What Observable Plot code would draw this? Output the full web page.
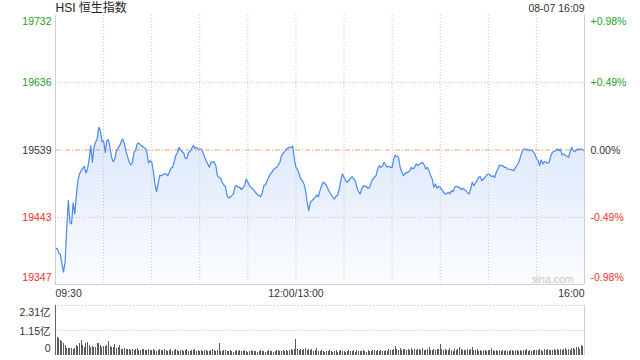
<!DOCTYPE html>
<html><head><meta charset="utf-8">
<script src="https://cdn.jsdelivr.net/npm/d3@7"></script>
<script src="https://cdn.jsdelivr.net/npm/@observablehq/plot@0.6"></script>
<style>
body{margin:0;background:#fff;}
#chart svg{display:block;}
</style></head><body><div id="chart"></div>
<script>
// trading minutes since 09:30 (lunch removed: 0..150 = 09:30..12:00, 150..330 = 13:00..16:00)
const priceMinute = [0,1,2,3,4,5,6,7,8,9,10,11,12,13,14,15,16,18,19,20,21,22,23,24,25,26,27,28,29,30,31,32,33,34,35,36,37,38,40,41,42,43,44,46,47,48,49,50,51,52,53,55,56,57,58,59,60,61,62,63,64,65,66,68,69,70,71,72,73,74,75,76,77,78,80,81,82,83,84,85,86,87,88,89,91,92,93,94,95,96,97,98,99,100,101,102,103,104,105,106,107,108,109,110,111,112,113,114,115,116,118,119,120,121,122,123,124,125,126,127,128,129,130,131,132,133,134,135,136,137,138,139,140,141,142,143,144,146,147,148,149,150,151,152,153,154,155,156,157,158,159,160,161,162,163,164,165,166,167,168,169,170,171,173,174,175,176,177,178,179,180,181,182,183,184,185,186,187,188,189,190,191,192,193,194,195,196,197,198,200,201,202,203,204,205,206,207,208,209,210,211,212,213,214,215,216,217,218,219,220,221,222,223,224,225,226,227,228,229,230,231,232,233,234,235,236,237,238,239,240,241,242,243,244,245,246,247,248,249,250,251,252,253,254,256,257,258,259,260,261,262,263,264,265,266,267,268,269,270,271,272,273,274,275,276,277,278,279,280,281,282,284,285,286,287,288,289,290,291,292,293,294,295,296,297,298,299,300,301,302,303,304,305,306,307,308,309,310,312,313,314,315,316,317,318,319,320,321,322,323,324,325,326,327,328,329,330];
const priceValue = [19397.9,19398.9,19392.2,19390.8,19376.5,19364.6,19378.9,19426.5,19467.0,19436.1,19433.7,19463.7,19448.0,19474.2,19495.6,19505.2,19509.9,19516.1,19506.6,19512.3,19526.6,19545.7,19521.9,19543.3,19550.5,19555.2,19571.9,19567.1,19551.4,19552.8,19536.2,19552.8,19554.3,19543.3,19529.0,19522.8,19526.6,19538.5,19545.7,19551.4,19555.2,19548.1,19537.1,19521.9,19518.0,19521.9,19536.2,19539.5,19548.1,19549.5,19546.7,19543.3,19541.9,19536.2,19520.9,19524.2,19522.8,19509.9,19490.9,19479.9,19490.9,19502.8,19502.8,19505.2,19505.2,19502.8,19507.6,19513.8,19514.7,19521.9,19531.4,19535.2,19543.3,19539.5,19535.2,19527.6,19527.6,19536.2,19537.1,19541.9,19545.7,19541.9,19543.3,19540.9,19540.9,19536.2,19529.0,19524.2,19519.5,19514.7,19521.9,19521.9,19522.8,19517.1,19502.8,19500.4,19499.0,19493.3,19489.4,19487.5,19474.2,19470.9,19472.3,19474.2,19476.6,19487.5,19488.5,19486.1,19486.1,19482.8,19488.5,19498.0,19493.3,19488.5,19486.1,19483.7,19481.3,19478.0,19475.1,19474.2,19472.8,19478.0,19488.5,19489.4,19495.6,19500.4,19505.2,19507.6,19511.4,19513.3,19514.7,19518.0,19521.9,19531.4,19534.7,19537.1,19540.9,19543.3,19543.3,19544.7,19526.6,19514.7,19511.4,19505.2,19498.0,19495.6,19490.9,19481.3,19464.7,19452.7,19464.7,19467.0,19469.4,19471.8,19475.1,19472.8,19481.3,19488.5,19493.3,19491.8,19488.5,19483.7,19479.0,19471.8,19469.4,19473.2,19475.1,19483.7,19495.6,19505.2,19500.4,19495.6,19493.3,19495.6,19499.0,19501.4,19498.0,19495.6,19486.1,19479.9,19476.6,19483.7,19488.5,19487.1,19487.5,19484.7,19486.1,19493.3,19498.0,19502.8,19512.3,19517.1,19514.7,19516.1,19521.9,19518.0,19514.7,19516.1,19514.7,19514.7,19526.6,19532.3,19530.4,19529.0,19514.7,19508.5,19502.8,19505.2,19507.6,19507.6,19509.9,19514.7,19512.3,19514.7,19519.5,19517.1,19519.5,19520.4,19521.9,19518.0,19512.3,19514.7,19509.9,19502.8,19498.0,19486.1,19490.9,19484.7,19487.5,19486.1,19482.8,19479.0,19476.6,19476.6,19479.0,19476.6,19481.3,19479.9,19486.1,19487.5,19486.1,19486.1,19482.8,19484.7,19481.3,19478.0,19476.6,19483.7,19493.3,19488.5,19492.3,19495.6,19500.4,19501.4,19495.6,19498.0,19500.4,19503.7,19505.2,19503.7,19501.4,19502.8,19500.4,19507.6,19512.3,19518.0,19517.1,19517.1,19514.7,19514.7,19512.3,19511.4,19510.9,19509.9,19514.7,19518.0,19521.9,19529.0,19536.2,19540.9,19540.9,19539.5,19540.0,19538.5,19539.5,19537.1,19533.8,19527.6,19524.2,19517.1,19525.2,19519.5,19522.8,19521.9,19520.4,19521.9,19531.4,19536.2,19538.5,19540.9,19538.5,19540.9,19532.3,19533.8,19532.3,19530.4,19529.0,19536.2,19543.3,19538.5,19537.1,19540.0,19540.9,19540.0,19540.9,19539.5,19538.5];
// volume per trading minute, in 亿
const volume = [
0.85,0.82,0.77,0.69,0.65,0.54,0.46,0.34,0.32,0.31,
0.31,0.28,0.34,0.45,0.42,0.54,0.69,0.46,0.38,0.54,
0.62,0.46,0.38,0.43,0.37,0.38,0.54,0.57,0.46,0.38,
0.42,0.40,0.45,0.65,0.42,0.36,0.38,0.50,0.33,0.38,
0.45,0.30,0.28,0.33,0.26,0.30,0.27,0.25,0.29,0.24,
0.28,0.31,0.25,0.23,0.27,0.30,0.24,0.22,0.26,0.21,
0.24,0.27,0.22,0.20,0.25,0.29,0.23,0.21,0.28,0.24,
0.20,0.22,0.26,0.19,0.23,0.30,0.21,0.18,0.22,0.25,
0.19,0.23,0.27,0.20,0.18,0.24,0.21,0.26,0.19,0.22,
0.17,0.21,0.18,0.23,0.25,0.19,0.20,0.24,0.26,0.21,
0.19,0.22,0.57,0.20,0.18,0.23,0.21,0.17,0.19,0.24,
0.20,0.16,0.19,0.22,0.18,0.21,0.17,0.20,0.23,0.18,
0.16,0.19,0.21,0.17,0.20,0.18,0.15,0.19,0.22,0.17,
0.18,0.16,0.20,0.23,0.17,0.19,0.15,0.18,0.21,0.24,
0.19,0.17,0.22,0.20,0.25,0.18,0.23,0.27,0.22,0.30,
0.74,0.28,0.24,0.30,0.22,0.26,0.33,0.21,0.29,0.24,
0.27,0.20,0.23,0.31,0.19,0.17,0.21,0.18,0.16,0.20,
0.17,0.22,0.18,0.15,0.19,0.21,0.16,0.18,0.23,0.17,
0.20,0.15,0.18,0.22,0.17,0.19,0.24,0.16,0.21,0.18,
0.17,0.20,0.23,0.18,0.16,0.21,0.19,0.17,0.22,0.25,
0.19,0.21,0.18,0.24,0.20,0.17,0.22,0.19,0.26,0.21,
0.23,0.30,0.42,0.27,0.24,0.31,0.22,0.26,0.29,0.23,
0.27,0.25,0.32,0.22,0.28,0.24,0.30,0.26,0.23,0.33,
0.25,0.22,0.28,0.35,0.24,0.21,0.27,0.23,0.30,0.26,
0.51,0.29,0.24,0.27,0.22,0.25,0.31,0.23,0.20,0.26,
0.24,0.28,0.38,0.26,0.22,0.25,0.21,0.27,0.23,0.29,
0.35,0.24,0.21,0.26,0.19,0.23,0.20,0.25,0.22,0.18,
0.24,0.21,0.31,0.23,0.19,0.22,0.20,0.24,0.18,0.21,
0.19,0.23,0.20,0.17,0.22,0.25,0.19,0.21,0.24,0.20,
0.22,0.18,0.24,0.21,0.26,0.19,0.23,0.20,0.25,0.22,
0.24,0.21,0.27,0.23,0.19,0.26,0.22,0.28,0.24,0.21,
0.25,0.29,0.22,0.27,0.24,0.30,0.23,0.26,0.31,0.25,
0.28,0.24,0.33,0.31,0.27,0.38,0.35,0.30,0.46,0.42,
0.54];
const prevClose = 19539.5;
const yTickValues = [19347, 19443, 19539, 19636, 19732];
const yTickLabels = ["19347", "19443", "19539", "19636", "19732"];
const pctLabels = ["-0.98%", "-0.49%", "0.00%", "+0.49%", "+0.98%"];
const xTickMinutes = [0, 150, 330];
const xTickLabels = ["09:30", "12:00/13:00", "16:00"];
const gridMinutes = [30, 60, 90, 120, 150, 180, 210, 240, 270, 300];
const volTickValues = [0, 1.155, 2.31];
const volTickLabels = ["0", "1.15亿", "2.31亿"];
const titleText = "HSI 恒生指数";
const stampText = "08-07 16:09";
const watermark = "sina.com";

const GREEN = "#1f9e1f", RED = "#ee3026", DARK = "#333", GRID = "#c4c4c4";
const FONT = "'Liberation Sans', Arial, 'Noto Sans CJK SC', sans-serif";

const prices = priceMinute.map((m, i) => ({m, v: priceValue[i]}));
const yTicks = yTickValues.map((v, i) => ({v, label: yTickLabels[i], pct: pctLabels[i], i}));
const tickColor = d => d.v > prevClose + 1 ? GREEN : d.v < prevClose - 1 ? RED : DARK;
const last = yTicks.length - 1;

function yLabels(side) {
  const left = side === "left";
  const groups = [
    {f: d => d.i === last, dy: 6},
    {f: d => d.i === 0, dy: -6.5},
    {f: d => d.i > 0 && d.i < last, dy: 0}
  ];
  return groups.map(g => Plot.text(yTicks.filter(g.f), {
    y: "v", text: left ? "label" : "pct", frameAnchor: side,
    textAnchor: left ? "end" : "start", dx: left ? -4 : 6, dy: g.dy,
    lineAnchor: "middle", fill: tickColor, fontSize: 10.5
  }));
}
const xTicks = xTickMinutes.map((m, i) => ({m, label: xTickLabels[i], i}));
const xAnchors = ["start", "middle", "end"];

const main = Plot.plot({
  width: 640, height: 300,
  marginTop: 15, marginBottom: 16, marginLeft: 55, marginRight: 56,
  style: {fontFamily: FONT, fontSize: "10.5px", color: DARK, background: "#fff"},
  color: {type: "identity"},
  x: {domain: [0, 330], axis: null},
  y: {domain: [yTickValues[0], yTickValues[last]], axis: null},
  marks: [
    Plot.areaY(prices, {x: "m", y1: yTickValues[0], y2: "v", fill: "url(#areaGrad)"}),
    Plot.ruleX(gridMinutes, {stroke: GRID, strokeDasharray: "1,2"}),
    Plot.ruleY(yTickValues.slice(1, last).filter(v => Math.abs(v - prevClose) > 1), {stroke: GRID, strokeDasharray: "1,2"}),
    Plot.ruleY([prevClose], {stroke: "#f4a268", strokeDasharray: "5,2,1,2"}),
    Plot.lineY(prices, {x: "m", y: "v", stroke: "#4b88f0", strokeWidth: 1.2}),
    Plot.ruleX([xTickMinutes[0], xTickMinutes[2]], {stroke: "#cfcfcf"}),
    Plot.ruleY([yTickValues[0]], {stroke: "#cfcfcf"}),
    ...yLabels("left"),
    ...yLabels("right"),
    ...xAnchors.map((a, k) => Plot.text(xTicks.filter(d => d.i === k), {
      x: "m", text: "label", frameAnchor: "bottom", textAnchor: a, lineAnchor: "middle", dy: 9.5, fill: DARK, fontSize: 10.5
    })),
    Plot.text([titleText], {frameAnchor: "top-left", textAnchor: "start", lineAnchor: "middle", dy: -7, fontSize: 12, fill: "#222"}),
    Plot.text([stampText], {frameAnchor: "top-right", textAnchor: "end", lineAnchor: "middle", dy: -7, fontSize: 10.5, fill: DARK}),
    Plot.text([watermark], {frameAnchor: "bottom-right", textAnchor: "end", lineAnchor: "middle", dx: -11, dy: -5, fontSize: 10.5, fill: "#c8c8c8"})
  ]
});
const defs = d3.select(main).insert("defs", ":first-child");
const grad = defs.append("linearGradient").attr("id", "areaGrad").attr("x1", 0).attr("y1", 0).attr("x2", 0).attr("y2", 1);
grad.append("stop").attr("offset", 0).attr("stop-color", "#dbe7fb");
grad.append("stop").attr("offset", 1).attr("stop-color", "#fbfcff");

const volTicks = volTickValues.map((v, i) => ({v, label: volTickLabels[i], i}));
const volDy = [-6.5, 1, 7];
const vol = Plot.plot({
  width: 640, height: 60,
  marginTop: 5, marginBottom: 5, marginLeft: 55, marginRight: 56,
  style: {fontFamily: FONT, fontSize: "10.5px", color: DARK, background: "#fff"},
  x: {domain: [0, 330], axis: null},
  y: {domain: [0, volTickValues[2]], axis: null},
  marks: [
    Plot.ruleY(volTickValues.slice(1), {stroke: GRID, strokeDasharray: "1,2"}),
    Plot.ruleX(volume, {x: (d, i) => i, y1: 0, y2: d => d, stroke: "#5a5a5a", strokeWidth: 1, shapeRendering: "crispEdges"}),
    Plot.ruleX([330], {stroke: "#cfcfcf"}),
    Plot.ruleX([0], {stroke: "#666"}),
    ...volTicks.map((t, k) => Plot.text([t], {
      y: "v", text: "label", frameAnchor: "left", textAnchor: "end", dx: -5, dy: volDy[k], lineAnchor: "middle", fill: DARK, fontSize: 10.5
    }))
  ]
});
const root = document.getElementById("chart");
root.appendChild(main);
root.appendChild(vol);
</script></body></html>
